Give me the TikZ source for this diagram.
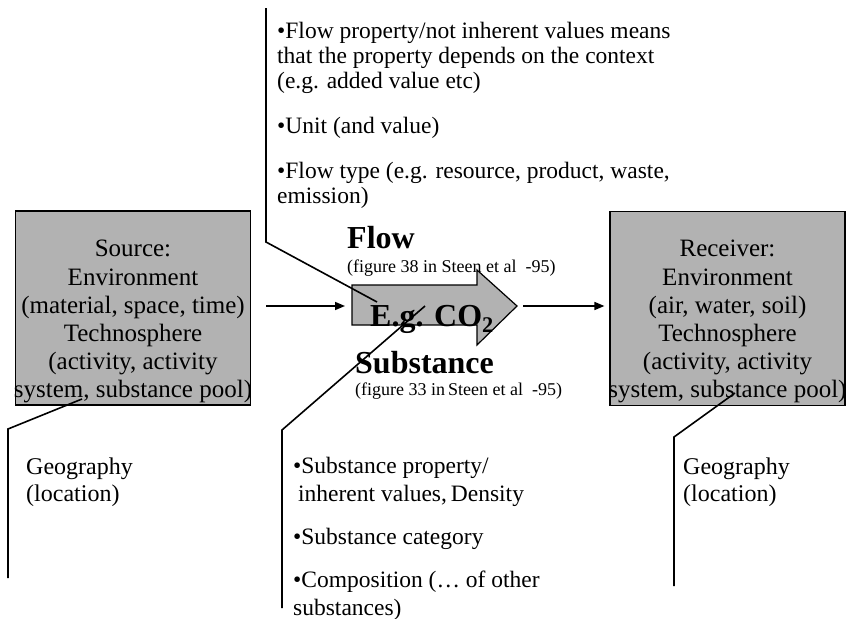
\documentclass[tikz,border=0pt]{standalone}
\usepackage{fontspec}
\setmainfont{Liberation Serif}
\usetikzlibrary{positioning,arrows.meta}

\begin{document}
\begin{tikzpicture}[x=1pt, y=-1pt, >={Triangle[length=10pt,width=8pt]},
  every box/.style={draw=black, line width=1.2pt, fill=gray!60,
    minimum width=235pt, minimum height=194pt, inner sep=0pt},
  box text/.style={align=center, inner sep=0pt, anchor=south,
    font=\fontsize{25}{28.2}\selectfont},
  notes/.style={align=left, inner sep=0pt, anchor=north west},
  title/.style={inner sep=0pt, anchor=base west,
    font=\fontsize{32}{36}\selectfont\bfseries},
  cite/.style={inner sep=0pt, anchor=base west,
    font=\fontsize{18}{20}\selectfont},
  link/.style={line width=1.6pt},
  callout/.style={line width=1.6pt}]

\useasboundingbox (0,0) rectangle (847,619);

% Create the source and receiver boxes
\node [every box] (src) at (133,308) {};
\node [every box] (rcv) at (727.5,308.5) {};

% Label the boxes
\node [box text] (src-text) at (133,403.5)
  {Source:\\Environment\\(material, space, time)\\Technosphere\\(activity, activity\\system, substance pool)};
\node [box text] (rcv-text) at (727.5,403.5)
  {Receiver:\\Environment\\(air, water, soil)\\Technosphere\\(activity, activity\\system, substance pool)};

% Create the flow arrow
\draw [line width=1.2pt, fill=gray!60]
  (352,285) -- (477,285) -- (477,270) -- (517,306) -- (477,345) -- (477,325) -- (352,325) -- cycle;
\coordinate (flow-in) at (352,306);
\coordinate (flow-out) at (517,306);

% Label the flow arrow
\node [title] (flow-title) at (347,248) {Flow};
\node [cite] (flow-cite) at (347,272) {(figure 38 in Steen et al~ -95)};
\node [title] (flow-eg) at (370,326) {E.g. CO\textsubscript{2}};
\node [title] (subst-title) at (355,373) {Substance};
\node [cite] (subst-cite) at (355,395) {(figure 33 in\,Steen et al~ -95)};

% Connect the boxes to the flow arrow
\draw [link, ->, shorten <=15pt, shorten >=7pt] (src.east |- flow-in) -- (flow-in);
\draw [link, ->, shorten <=6pt, shorten >=5pt] (flow-out) -- (rcv.west |- flow-out);

% The notes
\node [notes, font=\fontsize{23.5}{25}\selectfont] (flow-notes) at (277,22)
  {•Flow property/not inherent values means\\that the property depends on the context\\(e.g. added value etc)\\[20pt]%
   •Unit (and value)\\[20pt]•Flow type (e.g. resource, product, waste,\\emission)};
\node [notes, font=\fontsize{23.5}{28}\selectfont] (subst-notes) at (293,457)
  {•Substance property/\\\hspace*{5pt}inherent values,\,Density\\[15pt]•Substance category\\[15pt]%
   •Composition (… of other\\substances)};
\foreach \n/\x in {src/26, rcv/683}
  \node [notes, font=\fontsize{24}{27}\selectfont] (geo-\n) at (\x,458) {Geography\\(location)};

% Callout lines
\coordinate (note-flow-a) at (266,8);
\coordinate (note-flow-b) at (266,242);
\coordinate (note-flow-c) at (377,302);
\coordinate (note-subst-a) at (282,608);
\coordinate (note-subst-b) at (282,430);
\coordinate (note-subst-c) at (425,306);
\coordinate (note-src-a) at (8,578);
\coordinate (note-src-b) at (8,429);
\coordinate (note-src-c) at (82,399);
\coordinate (note-rcv-a) at (674,586);
\coordinate (note-rcv-b) at (674,437);
\coordinate (note-rcv-c) at (735,393);
\foreach \n in {flow, subst, src, rcv}
  \draw [callout] (note-\n-a) -- (note-\n-b) -- (note-\n-c);

\end{tikzpicture}
\end{document}
